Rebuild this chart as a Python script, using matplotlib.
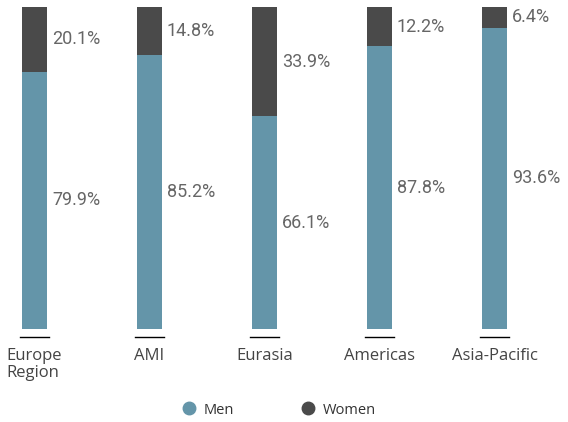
import numpy as np
import matplotlib.pyplot as plt
from matplotlib.lines import Line2D

# data
regions = ['Europe\nRegion', 'AMI', 'Eurasia', 'Americas', 'Asia-Pacific']
men = [79.9, 85.2, 66.1, 87.8, 93.6]
women = [20.1, 14.8, 33.9, 12.2, 6.4]

men_color = '#6495a9'
women_color = '#4a4a4a'
text_color = '#666666'

fig = plt.figure(figsize=(5.68, 4.22), dpi=100)
ax = fig.add_axes([0, 93/422, 1, 322/422])

x = np.arange(len(regions))
w = 25/115
ax.bar(x, men, width=w, color=men_color)
ax.bar(x, women, width=w, bottom=men, color=women_color)

ax.set_xlim(-34.5/115, (568-34.5)/115)
ax.set_ylim(0, 100)
ax.axis('off')

for i in range(len(regions)):
    ax.text(i + w/2 + 5/115, men[i]/2, '%.1f%%' % men[i], ha='left', va='center',
            fontsize=13, color=text_color, family='Roboto')
    ax.text(i + w/2 + 5/115, men[i] + women[i]/2, '%.1f%%' % women[i], ha='left', va='center',
            fontsize=13, color=text_color, family='Roboto')
    # small tick line under each bar
    ax.plot([i - 0.125, i + 0.125], [-8/322*100, -8/322*100], color='black', lw=1, clip_on=False)
    ax.text(i, -19/322*100, regions[i], ha='center', va='top', multialignment='left',
            fontsize=12, color='#444444', family='Open Sans', linespacing=1.1)

handles = [Line2D([], [], marker='o', ls='none', markersize=9, color=men_color),
           Line2D([], [], marker='o', ls='none', markersize=9, color=women_color)]
leg = fig.legend(handles, ['Men', 'Women'], loc='center', bbox_to_anchor=(279/568, 1 - 410/422),
                 ncol=2, frameon=False, handlelength=1, handletextpad=0.5, columnspacing=4.6,
                 prop={'family': 'Open Sans', 'size': 10.5})
for t in leg.get_texts():
    t.set_color('#333333')

plt.savefig('out.png', dpi=100)
